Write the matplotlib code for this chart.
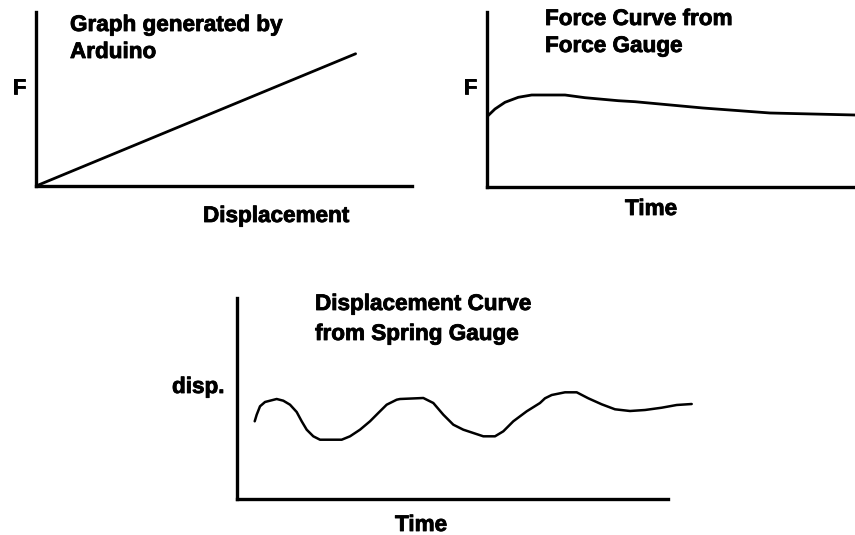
import matplotlib
matplotlib.use('Agg')
import matplotlib.pyplot as plt
import matplotlib.patheffects as pe

# hand-drawn style sketch: three panels (axis units 0-100)
disp_ard = [0, 85]
force_ard = [0, 76]

time_fg = [0, 2.17, 4.89, 8.51, 12.15, 21.2, 26.63, 35.68, 40.22, 58.7, 76.9, 100]
force_fg = [40.17, 44.57, 48.4, 51.26, 52.57, 52.57, 51.03, 49.31, 48.74, 45.14, 42.29, 41.14]

time_sg = [4.11, 4.57, 5.34, 6.5, 7.66, 9.21, 10.74, 12.3, 13.85, 15.01, 16.17, 17.7,
           19.26, 24.29, 26.22, 28.54, 30.86, 32.78, 34.73, 37.05, 37.82, 43.23, 45.55,
           47.87, 50.19, 52.51, 57.15, 59.86, 61.79, 64.11, 67.22, 70.3, 71.46, 73.02,
           76.1, 78.82, 81.51, 84.62, 87.7, 91.18, 94.66, 98.54, 102.02, 105.5]
disp_sg = [38.66, 41.94, 46.12, 48.26, 48.91, 49.75, 48.91, 46.92, 43.28, 38.66, 34.48,
           31.19, 29.5, 29.5, 31.19, 34.48, 38.66, 42.79, 46.92, 49.4, 49.75, 50.25, 47.76,
           41.94, 36.97, 34.48, 31.19, 31.19, 33.68, 38.66, 43.63, 47.76, 50.1, 51.74,
           53.08, 53.08, 50.1, 47.11, 44.63, 43.78, 44.28, 45.42, 46.77, 47.26]

W, H = 855, 535
plt.rcParams['font.family'] = ['Liberation Sans', 'DejaVu Sans']
fig = plt.figure(figsize=(W / 100, H / 100), dpi=100)


def panel(left, top, right, bottom):
    ax = fig.add_axes([left / W, 1 - bottom / H, (right - left) / W, (bottom - top) / H])
    ax.set_xlim(0, 100)
    ax.set_ylim(0, 100)
    ax.set_xticks([])
    ax.set_yticks([])
    ax.patch.set_visible(False)
    for s in ['top', 'right']:
        ax.spines[s].set_visible(False)
    for s in ['left', 'bottom']:
        ax.spines[s].set_linewidth(2.4)
        ax.spines[s].set_capstyle('projecting')
    return ax


def label(x, y, s):
    fig.text(x / W, 1 - y / H, s, fontsize=16.2, fontweight='bold', color='black',
             ha='left', va='baseline',
             path_effects=[pe.withStroke(linewidth=0.6, foreground='black')])


line_kw = dict(color='black', solid_capstyle='round', solid_joinstyle='round')

ax1 = panel(36, 12, 412, 186)
ax1.plot(disp_ard, force_ard, linewidth=2.0, **line_kw)
label(70, 31, 'Graph generated by')
label(70, 58, 'Arduino')
label(12, 94, 'F')
label(203, 222, 'Displacement')

ax2 = panel(487, 12, 855, 187)
ax2.plot(time_fg, force_fg, linewidth=2.0, **line_kw)
label(545, 25, 'Force Curve from')
label(545, 52, 'Force Gauge')
label(463, 94, 'F')
label(625, 215, 'Time')

ax3 = panel(237, 298, 668, 499)
ax3.plot(time_sg, disp_sg, linewidth=1.8, clip_on=False, **line_kw)
label(315, 310, 'Displacement Curve')
label(315, 340, 'from Spring Gauge')
label(172, 393, 'disp.')
label(395, 531, 'Time')

plt.savefig('out.png', dpi=100)
